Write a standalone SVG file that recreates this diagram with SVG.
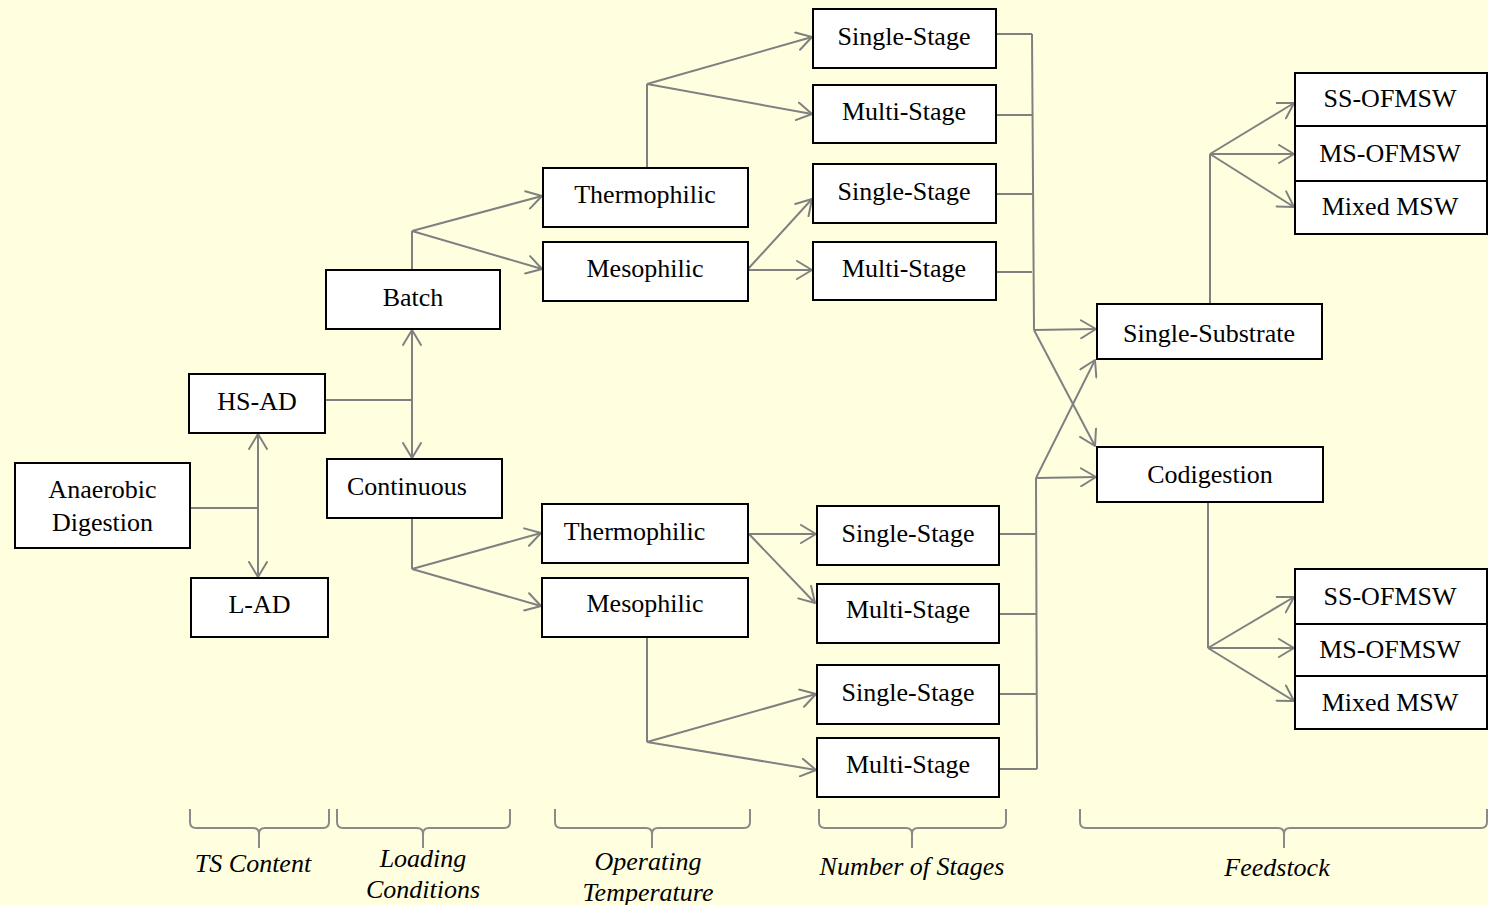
<svg xmlns="http://www.w3.org/2000/svg" width="1488" height="905" viewBox="0 0 1488 905">
<style>
.box{fill:#ffffff;stroke:#000000;stroke-width:2}
.lbl{font-family:"Liberation Serif","Times New Roman",serif;font-size:26px;fill:#000000;text-anchor:middle}
.cat{font-family:"Liberation Serif","Times New Roman",serif;font-size:26px;font-style:italic;fill:#000000;text-anchor:middle}
.c{fill:none;stroke:#808080;stroke-width:2}
.a{fill:none;stroke:#808080;stroke-width:2;marker-end:url(#arr)}
.aa{fill:none;stroke:#808080;stroke-width:2;marker-end:url(#arr);marker-start:url(#arr)}
.brace{fill:none;stroke:#8a8a8a;stroke-width:2}
</style>
<defs>
<marker id="arr" markerUnits="userSpaceOnUse" viewBox="0 0 18 20" refX="16" refY="10" markerWidth="18" markerHeight="20" orient="auto-start-reverse">
<path d="M1,1 L16,10 L1,19" fill="none" stroke="#808080" stroke-width="2" stroke-linejoin="round" stroke-linecap="round"/>
</marker>
</defs>
<rect x="0" y="0" width="1488" height="905" fill="#ffffe0"/>

<g id="connectors">
<path class="c" d="M190,508 L258,508"/>
<path class="aa" d="M258,434 L258,577"/>
<path class="c" d="M325,400 L412,400"/>
<path class="aa" d="M412,330 L412,458"/>
<path class="c" d="M412,270 L412,231"/>
<path class="a" d="M412,231 L542,196"/>
<path class="a" d="M412,231 L542,269"/>
<path class="c" d="M412,518 L412,569"/>
<path class="a" d="M412,569 L541,533"/>
<path class="a" d="M412,569 L541,606"/>
<path class="c" d="M647,168 L647,84"/>
<path class="a" d="M647,84 L812,37"/>
<path class="a" d="M647,84 L812,114"/>
<path class="a" d="M748,269 L812,199"/>
<path class="a" d="M748,270 L812,270"/>
<path class="a" d="M749,534 L816,534"/>
<path class="a" d="M749,534 L815,603"/>
<path class="c" d="M647,637 L647,742"/>
<path class="a" d="M647,742 L816,694"/>
<path class="a" d="M647,742 L816,770"/>
<path class="c" d="M996,34 L1032,34 M996,115 L1032,115 M996,194 L1032,194 M996,272 L1032,272 M1032,34 L1034,330"/>
<path class="a" d="M1034,330 L1096,329"/>
<path class="a" d="M1034,330 L1095,446"/>
<path class="c" d="M999,534 L1036,534 M999,614 L1036,614 M999,694 L1037,694 M999,769 L1037,769 M1036,478 L1037,769"/>
<path class="a" d="M1036,478 L1096,477"/>
<path class="a" d="M1036,478 L1095,360"/>
<path class="c" d="M1210,304 L1210,154"/>
<path class="a" d="M1210,154 L1294,103"/>
<path class="a" d="M1210,154 L1294,154"/>
<path class="a" d="M1210,154 L1294,207"/>
<path class="c" d="M1208,502 L1208,648"/>
<path class="a" d="M1208,648 L1294,597"/>
<path class="a" d="M1208,648 L1294,648"/>
<path class="a" d="M1208,648 L1294,701"/>
</g>

<g id="n-ad"><rect class="box" x="15" y="463" width="175" height="85"/><text class="lbl" x="102.5" y="498">Anaerobic</text><text class="lbl" x="102.5" y="531">Digestion</text></g>
<g id="n-hsad"><rect class="box" x="189" y="374" width="136" height="59"/><text class="lbl" x="257" y="410">HS-AD</text></g>
<g id="n-lad"><rect class="box" x="191" y="578" width="137" height="59"/><text class="lbl" x="259.5" y="613">L-AD</text></g>
<g id="n-batch"><rect class="box" x="326" y="270" width="174" height="59"/><text class="lbl" x="413" y="306">Batch</text></g>
<g id="n-cont"><rect class="box" x="327" y="459" width="175" height="59"/><text class="lbl" x="407" y="495">Continuous</text></g>
<g id="n-thermo1"><rect class="box" x="543" y="168" width="205" height="59"/><text class="lbl" x="645" y="203">Thermophilic</text></g>
<g id="n-meso1"><rect class="box" x="543" y="242" width="205" height="59"/><text class="lbl" x="645" y="277">Mesophilic</text></g>
<g id="n-ss1"><rect class="box" x="813" y="9" width="183" height="59"/><text class="lbl" x="904" y="45">Single-Stage</text></g>
<g id="n-ms1"><rect class="box" x="813" y="85" width="183" height="58"/><text class="lbl" x="904" y="120">Multi-Stage</text></g>
<g id="n-ss2"><rect class="box" x="813" y="164" width="183" height="59"/><text class="lbl" x="904" y="200">Single-Stage</text></g>
<g id="n-ms2"><rect class="box" x="813" y="242" width="183" height="58"/><text class="lbl" x="904" y="277">Multi-Stage</text></g>
<g id="n-thermo2"><rect class="box" x="542" y="504" width="206" height="59"/><text class="lbl" x="634.5" y="540">Thermophilic</text></g>
<g id="n-meso2"><rect class="box" x="542" y="578" width="206" height="59"/><text class="lbl" x="645" y="612">Mesophilic</text></g>
<g id="n-ss3"><rect class="box" x="817" y="506" width="182" height="59"/><text class="lbl" x="908" y="542">Single-Stage</text></g>
<g id="n-ms3"><rect class="box" x="817" y="584" width="182" height="59"/><text class="lbl" x="908" y="618">Multi-Stage</text></g>
<g id="n-ss4"><rect class="box" x="817" y="665" width="182" height="59"/><text class="lbl" x="908" y="701">Single-Stage</text></g>
<g id="n-ms4"><rect class="box" x="817" y="738" width="182" height="59"/><text class="lbl" x="908" y="773">Multi-Stage</text></g>
<g id="n-single"><rect class="box" x="1097" y="304" width="225" height="55"/><text class="lbl" x="1209" y="342">Single-Substrate</text></g>
<g id="n-codig"><rect class="box" x="1097" y="447" width="226" height="55"/><text class="lbl" x="1210" y="483">Codigestion</text></g>
<g id="n-ss-top"><rect class="box" x="1295" y="73" width="192" height="53"/><text class="lbl" x="1390" y="107">SS-OFMSW</text></g>
<g id="n-ms-top"><rect class="box" x="1295" y="126" width="192" height="55"/><text class="lbl" x="1390" y="162">MS-OFMSW</text></g>
<g id="n-mix-top"><rect class="box" x="1295" y="181" width="192" height="53"/><text class="lbl" x="1390" y="215">Mixed MSW</text></g>
<g id="n-ss-bot"><rect class="box" x="1295" y="569" width="192" height="55"/><text class="lbl" x="1390" y="605">SS-OFMSW</text></g>
<g id="n-ms-bot"><rect class="box" x="1295" y="624" width="192" height="52"/><text class="lbl" x="1390" y="658">MS-OFMSW</text></g>
<g id="n-mix-bot"><rect class="box" x="1295" y="676" width="192" height="53"/><text class="lbl" x="1390" y="711">Mixed MSW</text></g>

<g id="cat-ts"><path class="brace" d="M190,809 L190,822 Q190,828 196,828 L253,828 Q259,828 259,834 L259,848 M259,834 Q259,828 265,828 L323,828 Q329,828 329,822 L329,809"/><text class="cat" x="253" y="872">TS Content</text></g>
<g id="cat-load"><path class="brace" d="M337,809 L337,822 Q337,828 343,828 L417,828 Q423,828 423,834 L423,848 M423,834 Q423,828 429,828 L504,828 Q510,828 510,822 L510,809"/><text class="cat" x="423" y="867">Loading</text><text class="cat" x="423" y="898">Conditions</text></g>
<g id="cat-temp"><path class="brace" d="M555,809 L555,822 Q555,828 561,828 L646,828 Q652,828 652,834 L652,848 M652,834 Q652,828 658,828 L744,828 Q750,828 750,822 L750,809"/><text class="cat" x="648" y="870">Operating</text><text class="cat" x="648" y="901">Temperature</text></g>
<g id="cat-stages"><path class="brace" d="M819,809 L819,822 Q819,828 825,828 L906,828 Q912,828 912,834 L912,848 M912,834 Q912,828 918,828 L1000,828 Q1006,828 1006,822 L1006,809"/><text class="cat" x="912" y="875">Number of Stages</text></g>
<g id="cat-feed"><path class="brace" d="M1080,809 L1080,822 Q1080,828 1086,828 L1278,828 Q1284,828 1284,834 L1284,848 M1284,834 Q1284,828 1290,828 L1481,828 Q1487,828 1487,822 L1487,809"/><text class="cat" x="1277" y="876">Feedstock</text></g>
</svg>
